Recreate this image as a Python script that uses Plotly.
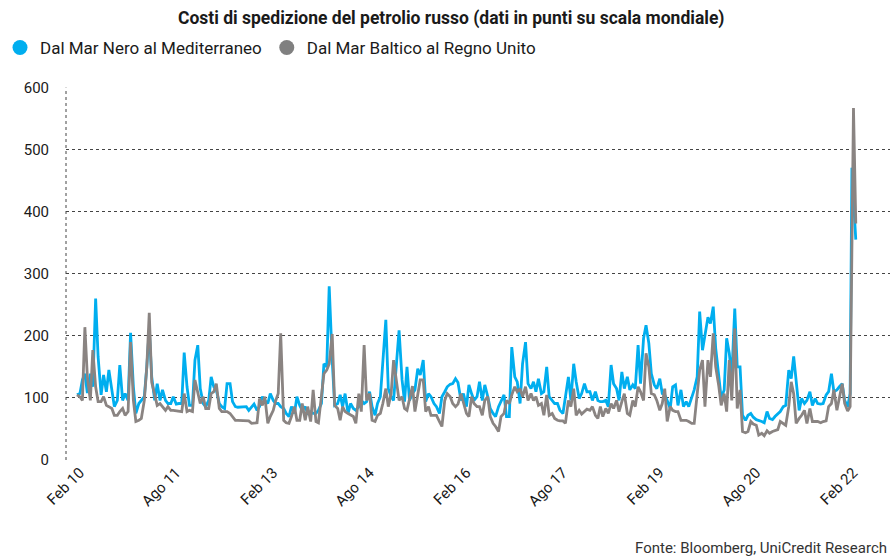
import pandas as pd
import plotly.graph_objects as go

# Semi-monthly readings (15th / 1st of each month) from 15 Jan 2010 to 15 Jan 2022
# Dal Mar Nero al Mediterraneo
mar_nero = [
    105, 107, 129, 139, 108, 139, 118, 260, 166, 105, 137, 110, 145, 113, 86, 96, 153, 96, 107, 96, 205, 118, 75, 91,
    96, 102, 150, 210, 134, 96, 123, 96, 113, 96, 91, 91, 102, 90, 91, 91, 173, 118, 88, 88, 161, 185, 115, 91,
    86, 96, 134, 118, 113, 91, 86, 83, 123, 123, 94, 86, 85, 85, 86, 86, 80, 86, 90, 80, 86, 102, 96, 91,
    107, 96, 91, 91, 86, 83, 75, 70, 86, 75, 102, 88, 80, 86, 75, 78, 75, 75, 80, 91, 155, 150, 280, 161,
    88, 91, 105, 86, 107, 75, 91, 83, 80, 86, 96, 91, 94, 110, 86, 72, 91, 102, 161, 226, 115, 102, 96, 161,
    209, 129, 94, 150, 96, 107, 113, 147, 137, 161, 94, 107, 102, 91, 86, 75, 102, 110, 118, 122, 123, 131, 125, 96,
    107, 86, 121, 107, 96, 102, 126, 96, 121, 102, 83, 75, 70, 86, 96, 105, 70, 70, 182, 134, 126, 91, 155, 190,
    123, 115, 126, 110, 131, 107, 110, 150, 102, 96, 91, 91, 80, 75, 102, 134, 96, 155, 126, 99, 107, 123, 110, 110,
    96, 110, 96, 94, 94, 96, 86, 153, 123, 115, 96, 142, 115, 134, 113, 121, 115, 185, 123, 196, 217, 188, 139, 121,
    115, 131, 107, 105, 96, 83, 118, 121, 88, 113, 86, 94, 86, 102, 113, 134, 239, 177, 204, 230, 220, 247, 180, 134,
    100, 113, 196, 172, 134, 244, 150, 150, 72, 64, 72, 75, 69, 65, 64, 62, 60, 78, 67, 65, 70, 75, 78, 86,
    88, 145, 131, 167, 123, 80, 99, 91, 96, 110, 88, 99, 91, 90, 91, 105, 110, 139, 110, 113, 118, 123, 96, 86,
    107,
]

# Dal Mar Baltico al Regno Unito
mar_baltico = [
    105, 102, 96, 214, 134, 96, 177, 118, 94, 94, 102, 88, 86, 83, 72, 72, 78, 83, 72, 78, 190, 96, 62, 64,
    67, 96, 150, 237, 125, 102, 88, 91, 86, 80, 86, 80, 80, 79, 78, 78, 107, 78, 80, 78, 129, 107, 91, 102,
    83, 83, 107, 110, 123, 83, 78, 78, 78, 75, 70, 64, 64, 64, 63, 63, 63, 59, 60, 60, 99, 88, 102, 59,
    70, 80, 96, 107, 204, 64, 60, 59, 70, 86, 64, 64, 91, 64, 86, 62, 113, 62, 60, 107, 139, 145, 155, 203,
    88, 83, 64, 86, 78, 75, 72, 70, 59, 107, 78, 185, 96, 107, 64, 62, 72, 75, 91, 115, 86, 107, 161, 129,
    96, 102, 83, 80, 96, 119, 78, 107, 129, 129, 78, 86, 72, 72, 72, 62, 54, 96, 107, 102, 91, 86, 90, 107,
    91, 75, 70, 102, 91, 86, 86, 72, 96, 102, 70, 59, 54, 46, 70, 75, 96, 91, 105, 118, 110, 115, 102, 118,
    96, 107, 96, 102, 88, 91, 72, 105, 72, 75, 67, 64, 63, 63, 59, 96, 86, 115, 72, 80, 74, 78, 82, 80,
    86, 72, 67, 86, 70, 83, 75, 91, 83, 96, 78, 94, 107, 75, 72, 96, 86, 118, 110, 96, 172, 150, 107, 105,
    96, 80, 91, 115, 62, 86, 80, 78, 78, 64, 64, 64, 62, 59, 59, 107, 145, 161, 86, 161, 134, 204, 150, 120,
    88, 107, 78, 161, 96, 212, 83, 113, 46, 44, 46, 62, 58, 56, 40, 43, 39, 47, 43, 46, 48, 49, 62, 59,
    56, 86, 126, 107, 59, 67, 72, 80, 59, 83, 62, 62, 62, 60, 62, 63, 86, 91, 113, 80, 102, 123, 91, 79,
    86,
]

# Final spike (2022)
spike_dates = ["2022-01-25", "2022-02-03", "2022-02-16"]
spike_nero = [471, 420, 355]
spike_baltico = [300, 567, 381]

tick_dates = ["2010-02-01", "2011-08-01", "2013-02-01", "2014-08-01", "2016-02-01",
              "2017-08-01", "2019-02-01", "2020-08-01", "2022-02-01"]
tick_labels = ["Feb 10", "Ago 11", "Feb 13", "Ago 14", "Feb 16",
               "Ago 17", "Feb 19", "Ago 20", "Feb 22"]
y_ticks = [0, 100, 200, 300, 400, 500, 600]

name_nero = "Dal Mar Nero al Mediterraneo"
name_baltico = "Dal Mar Baltico al Regno Unito"
title_text = "<b>Costi di spedizione del petrolio russo (dati in punti su scala mondiale)</b>"
source_text = "Fonte: Bloomberg, UniCredit Research"

BLUE = "#00AEEF"
GREY = "#8A8482"
FONT = "Roboto"

base_dates = list(pd.date_range("2010-01-15", periods=len(mar_nero), freq="SMS"))
dates = base_dates + [pd.Timestamp(d) for d in spike_dates]
y_nero = mar_nero + spike_nero
y_baltico = mar_baltico + spike_baltico

fig = go.Figure()
fig.add_trace(go.Scatter(x=dates, y=y_nero, mode="lines", line=dict(color=BLUE, width=2.8),
                         showlegend=False, name=name_nero))
fig.add_trace(go.Scatter(x=dates, y=y_baltico, mode="lines", line=dict(color=GREY, width=2.8),
                         showlegend=False, name=name_baltico))
# legend entries with round markers
fig.add_trace(go.Scatter(x=[None], y=[None], mode="markers", name=name_nero,
                         marker=dict(color=BLUE, size=15, symbol="circle")))
fig.add_trace(go.Scatter(x=[None], y=[None], mode="markers", name=name_baltico,
                         marker=dict(color="#808080", size=15, symbol="circle")))

fig.update_layout(
    width=890, height=558,
    margin=dict(l=66, r=0, t=87, b=98, autoexpand=False),
    paper_bgcolor="white", plot_bgcolor="white",
    font=dict(family=FONT, color="#1a1a1a", size=15),
    title=dict(text=title_text, x=0.507, xanchor="center", xref="container",
               y=0.968, yanchor="middle", yref="container",
               font=dict(family=FONT, size=17.5, color="#1a1a1a")),
    legend=dict(orientation="h", xref="container", x=-0.008, xanchor="left",
                yref="container", y=0.914, yanchor="middle",
                font=dict(family=FONT, size=17, color="#1a1a1a"),
                itemwidth=30, tracegroupgap=0),
    showlegend=True,
)
fig.update_xaxes(
    type="date", automargin=False,
    range=["2009-11-14", "2022-08-29"],
    tickvals=tick_dates, ticktext=tick_labels,
    tickangle=-45, showgrid=False, zeroline=False, showline=False, ticks="",
    tickfont=dict(family=FONT, size=15, color="#1a1a1a"),
)
fig.update_yaxes(
    automargin=False,
    range=[0, 601], tickvals=y_ticks,
    showgrid=True, griddash="dot", gridcolor="#444444", gridwidth=1,
    zeroline=False, showline=False, ticks="",
    ticklabelstandoff=16,
    tickfont=dict(family=FONT, size=15, color="#1a1a1a"),
)
fig.add_shape(type="line", xref="paper", x0=0, x1=0, yref="y", y0=0, y1=600,
              line=dict(color="#444444", width=1, dash="dot"))
fig.add_annotation(text=source_text, xref="paper", yref="paper",
                   x=0.9985, y=-0.236, xanchor="right", yanchor="middle",
                   showarrow=False, font=dict(family=FONT, size=15, color="#333333"))

fig.write_html("out.html", config={"displayModeBar": False},
               post_script="document.body.style.margin='0';")
